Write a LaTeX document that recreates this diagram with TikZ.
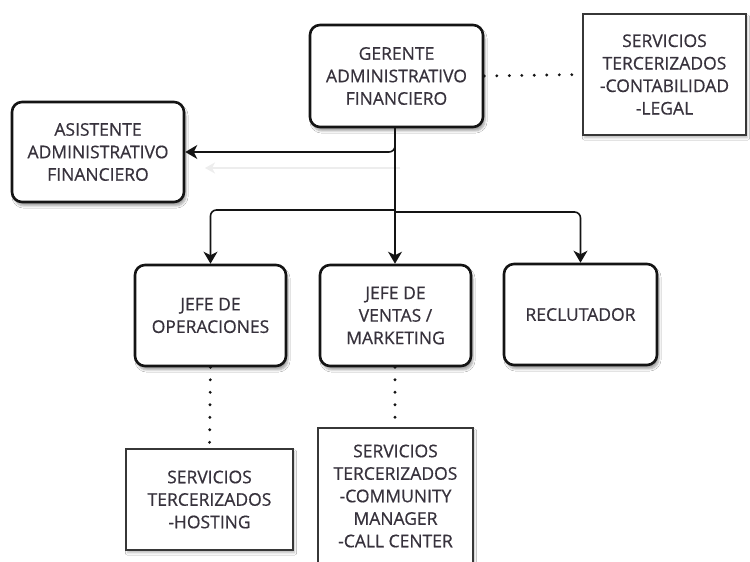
\documentclass[tikz,border=0pt]{standalone}
\usepackage{fontspec}
\setmainfont{Open Sans}
\newfontfamily\labelfont{Open Sans}[FakeBold=0.6]
\usetikzlibrary{arrows.meta,shadows.blur}
\definecolor{ink}{RGB}{55,50,60}
\definecolor{edge}{RGB}{20,20,20}
\tikzset{
  labeltext/.style={align=center, text=ink, inner sep=0pt,
    font=\labelfont\fontsize{17.5}{22.5}\selectfont},
  role/.style={labeltext, draw=edge, line width=2.6pt, rounded corners=10pt,
    fill=white, blur shadow={shadow xshift=2pt, shadow yshift=-4pt,
    shadow blur steps=6, shadow opacity=35}},
  outsrc/.style={labeltext, draw=edge!85, line width=1.1pt, fill=white,
    blur shadow={shadow xshift=1.5pt, shadow yshift=-3pt,
    shadow blur steps=5, shadow opacity=25}},
  link/.style={draw=edge, line width=1.6pt, rounded corners=6pt,
    -{Stealth[length=12pt,width=14pt,inset=3.5pt]}},
  dotted link/.style={draw=edge, line width=3.2pt, line cap=round,
    dash pattern=on 0pt off 12.5pt},
}
\begin{document}
\begin{tikzpicture}[x=1pt,y=1pt]
\useasboundingbox (0,0) rectangle (750,562);
\clip (0,0) rectangle (750,562);
\fill[white] (0,0) rectangle (750,562);

% faint trace of an older connector
\draw[gray!14, line width=1.4pt, -{Stealth[length=10pt,width=11pt,inset=3pt]}]
  (400,394) -- (205,394);

% management level
\node[role, minimum width=173pt, minimum height=102pt] (ger) at (396.5,486)
  {GERENTE\\ADMINISTRATIVO\\FINANCIERO};
\node[outsrc, minimum width=163pt, minimum height=121pt] (svc) at (664.5,487.5)
  {SERVICIOS\\TERCERIZADOS\\-CONTABILIDAD\\-LEGAL};
\node[role, minimum width=172pt, minimum height=100pt] (asis) at (98,410)
  {ASISTENTE\\ADMINISTRATIVO\\FINANCIERO};

% heads of area
\node[role, minimum width=151pt, minimum height=101pt] (ops) at (210.5,246.5)
  {JEFE DE\\OPERACIONES};
\node[role, minimum width=151pt, minimum height=101pt] (ven) at (395.5,246.5)
  {JEFE DE\\VENTAS /\\MARKETING};
\node[role, minimum width=153pt, minimum height=101pt] (rec) at (580.5,247.5)
  {RECLUTADOR};

% outsourced services
\node[outsrc, minimum width=167pt, minimum height=101pt] (host) at (209.5,62.5)
  {SERVICIOS\\TERCERIZADOS\\-HOSTING};
\node[outsrc, minimum width=155pt, minimum height=136pt] (com) at (395.5,66)
  {SERVICIOS\\TERCERIZADOS\\-COMMUNITY\\MANAGER\\-CALL CENTER};

% reporting lines
\coordinate (fork) at (395,352);
\draw[link] (ger.south -| fork) |- (asis.east);
\draw[draw=edge, line width=1.6pt] (ger.south -| fork) -- (fork);
\draw[link] (fork) -| (ops.north);
\draw[link] (fork) -- (ven.north -| fork);
\draw[link] ([yshift=-2pt]fork) -| (rec.north);

% outsourcing links
\draw[dotted link] (ger.east) -- (svc.west);
\draw[dotted link] (ops.south) -- (host.north);
\draw[dotted link] (ven.south -| fork) -- (com.north -| fork);
\end{tikzpicture}
\end{document}
